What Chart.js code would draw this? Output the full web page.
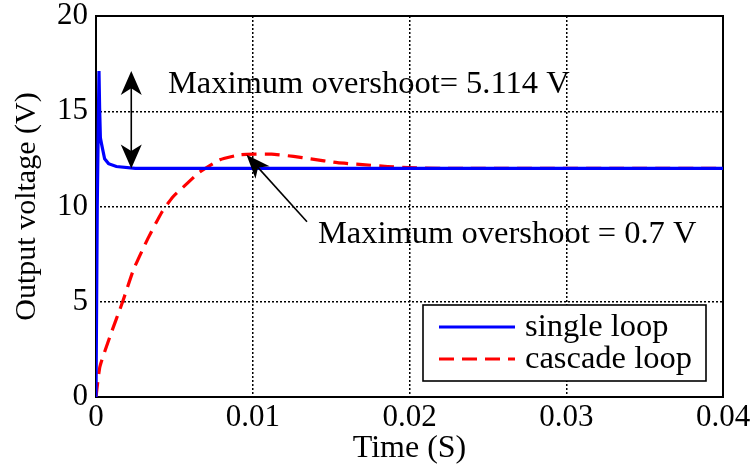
<!DOCTYPE html>
<html>
<head>
<meta charset="utf-8">
<script src="https://cdn.jsdelivr.net/npm/chart.js@4/dist/chart.umd.min.js"></script>
<style>
  html, body { margin: 0; padding: 0; background: #fff; }
  #wrap { width: 754px; height: 468px; }
</style>
</head>
<body>
<div id="wrap"><canvas id="chart" width="754" height="468"></canvas></div>
<script>
// values
const timeSingle = [0, 0.00008, 0.00019, 0.00023, 0.00028, 0.00035, 0.00045, 0.00055, 0.0008, 0.0013, 0.0025, 0.04];
const voltSingle = [0, 10, 17.11, 15.2, 13.6, 13.3, 12.9, 12.5, 12.25, 12.1, 12, 12];

const timeCascade = [0, 0.00025, 0.0009, 0.0017, 0.0024, 0.0033, 0.0042, 0.0049, 0.0058, 0.0066, 0.0079,
    0.0092, 0.0102, 0.0112, 0.0126, 0.0137, 0.0154, 0.017, 0.0186, 0.02, 0.022, 0.04];
const voltCascade = [0, 1.6, 3.2, 5.0, 6.7, 8.3, 9.7, 10.5, 11.2, 11.8, 12.45,
    12.72, 12.75, 12.75, 12.63, 12.5, 12.3, 12.2, 12.1, 12.04, 12, 12];

const xTickLabels = ['0', '0.01', '0.02', '0.03', '0.04'];
const yTickLabels = ['0', '5', '10', '15', '20'];

const FONT = 'Liberation Serif, "Times New Roman", serif';

const toPoints = (xs, ys) => xs.map((x, i) => ({ x: x, y: ys[i] }));

// arrowhead in matlab style (filled, with a notch)
function arrowHead(ctx, x, y, ang, len, half) {
    ctx.save();
    ctx.translate(x, y);
    ctx.rotate(ang);
    ctx.beginPath();
    ctx.moveTo(0, 0);
    ctx.lineTo(-len, -half);
    ctx.lineTo(-len * 0.72, 0);
    ctx.lineTo(-len, half);
    ctx.closePath();
    ctx.fillStyle = '#000';
    ctx.fill();
    ctx.restore();
}

// frame round the plot area
const framePlugin = {
    id: 'frame',
    beforeDatasetsDraw(chart) {
        const { ctx, chartArea: a } = chart;
        ctx.save();
        ctx.strokeStyle = '#000';
        ctx.lineWidth = 2;
        ctx.strokeRect(a.left, a.top, a.right - a.left, a.bottom - a.top);
        ctx.restore();
    }
};

// the two overshoot notes
const notesPlugin = {
    id: 'notes',
    afterDatasetsDraw(chart) {
        const { ctx, scales: { x, y } } = chart;
        ctx.save();
        ctx.strokeStyle = '#000';
        ctx.lineWidth = 1.6;

        // double arrow for the single loop overshoot
        const ax = x.getPixelForValue(0.00225);
        const yTop = y.getPixelForValue(17.11);
        const yBot = y.getPixelForValue(12);
        ctx.beginPath();
        ctx.moveTo(ax, yTop + 10);
        ctx.lineTo(ax, yBot - 10);
        ctx.stroke();
        arrowHead(ctx, ax, yTop, -Math.PI / 2, 24, 10.5);
        arrowHead(ctx, ax, yBot, Math.PI / 2, 24, 10.5);

        // arrow to the cascade loop peak
        const tx = x.getPixelForValue(0.0096), ty = y.getPixelForValue(12.72);
        const sx = x.getPixelForValue(0.01346), sy = y.getPixelForValue(9.2);
        const ang = Math.atan2(ty - sy, tx - sx);
        ctx.beginPath();
        ctx.moveTo(sx, sy);
        ctx.lineTo(tx - Math.cos(ang) * 12, ty - Math.sin(ang) * 12);
        ctx.stroke();
        arrowHead(ctx, tx, ty, ang, 24, 9.5);

        ctx.fillStyle = '#000';
        ctx.font = '32.5px ' + FONT;
        ctx.textAlign = 'left';
        ctx.textBaseline = 'middle';
        ctx.fillText('Maximum overshoot= 5.114 V', x.getPixelForValue(0.00459), y.getPixelForValue(16.4));
        ctx.fillText('Maximum overshoot = 0.7 V', x.getPixelForValue(0.01416), y.getPixelForValue(8.53));
        ctx.restore();
    }
};

// legend box in the lower right corner
const legendPlugin = {
    id: 'boxLegend',
    afterDraw(chart) {
        const { ctx, chartArea: a } = chart;
        const w = 283, h = 76;
        const left = a.right - 17 - w, top = a.bottom - 16 - h;
        ctx.save();
        ctx.fillStyle = '#fff';
        ctx.fillRect(left, top, w, h);
        ctx.strokeStyle = '#000';
        ctx.lineWidth = 1.6;
        ctx.strokeRect(left, top, w, h);
        ctx.font = '32.5px ' + FONT;
        ctx.textBaseline = 'middle';
        chart.data.datasets.forEach((ds, i) => {
            const ly = top + 22 + i * 32;
            ctx.beginPath();
            ctx.strokeStyle = ds.borderColor;
            ctx.lineWidth = ds.borderWidth;
            ctx.setLineDash(ds.borderDash || []);
            ctx.moveTo(left + 16, ly);
            ctx.lineTo(left + 92, ly);
            ctx.stroke();
            ctx.setLineDash([]);
            ctx.fillStyle = '#000';
            ctx.fillText(ds.label, left + 102, ly);
        });
        ctx.restore();
    }
};

new Chart(document.querySelector('#chart'), {
    type: 'line',
    data: {
        datasets: [
            {
                label: 'single loop',
                data: toPoints(timeSingle, voltSingle),
                borderColor: '#0000ff',
                borderWidth: 3.2,
                pointRadius: 0,
                tension: 0
            },
            {
                label: 'cascade loop',
                data: toPoints(timeCascade, voltCascade),
                borderColor: '#ff0000',
                borderWidth: 3.2,
                borderDash: [15, 8],
                pointRadius: 0,
                tension: 0.15
            }
        ]
    },
    options: {
        responsive: false,
        animation: false,
        layout: { padding: { top: 16, right: 31, left: 0, bottom: 0 } },
        plugins: { legend: { display: false }, tooltip: { enabled: false } },
        scales: {
            x: {
                type: 'linear',
                min: 0,
                max: 0.04,
                afterBuildTicks: (s) => { s.ticks = xTickLabels.map(v => ({ value: parseFloat(v) })); },
                afterFit: (s) => { s.height = 71; s.paddingLeft = 0; s.paddingRight = 0; },
                ticks: {
                    color: '#000',
                    padding: 2,
                    maxRotation: 0,
                    font: { family: FONT, size: 31 },
                    callback: (v, i) => xTickLabels[i]
                },
                grid: { color: '#000', lineWidth: 1.5, drawTicks: false },
                border: { display: false, dash: [2, 2] },
                title: {
                    display: true,
                    text: 'Time (S)',
                    color: '#000',
                    font: { family: FONT, size: 32 },
                    padding: { top: 0, bottom: 0 }
                }
            },
            y: {
                min: 0,
                max: 20,
                afterBuildTicks: (s) => { s.ticks = yTickLabels.map(v => ({ value: parseFloat(v) })); },
                afterFit: (s) => { s.width = 96; s.paddingTop = 0; s.paddingBottom = 0; },
                ticks: {
                    color: '#000',
                    padding: 8,
                    font: { family: FONT, size: 31 },
                    callback: (v, i) => yTickLabels[i]
                },
                grid: { color: '#000', lineWidth: 1.5, drawTicks: false },
                border: { display: false, dash: [2, 2] },
                title: {
                    display: true,
                    text: 'Output voltage (V)',
                    color: '#000',
                    font: { family: FONT, size: 30, lineHeight: 1.2 },
                    padding: { top: 9, bottom: 0 }
                }
            }
        }
    },
    plugins: [framePlugin, notesPlugin, legendPlugin]
});
</script>
</body>
</html>
